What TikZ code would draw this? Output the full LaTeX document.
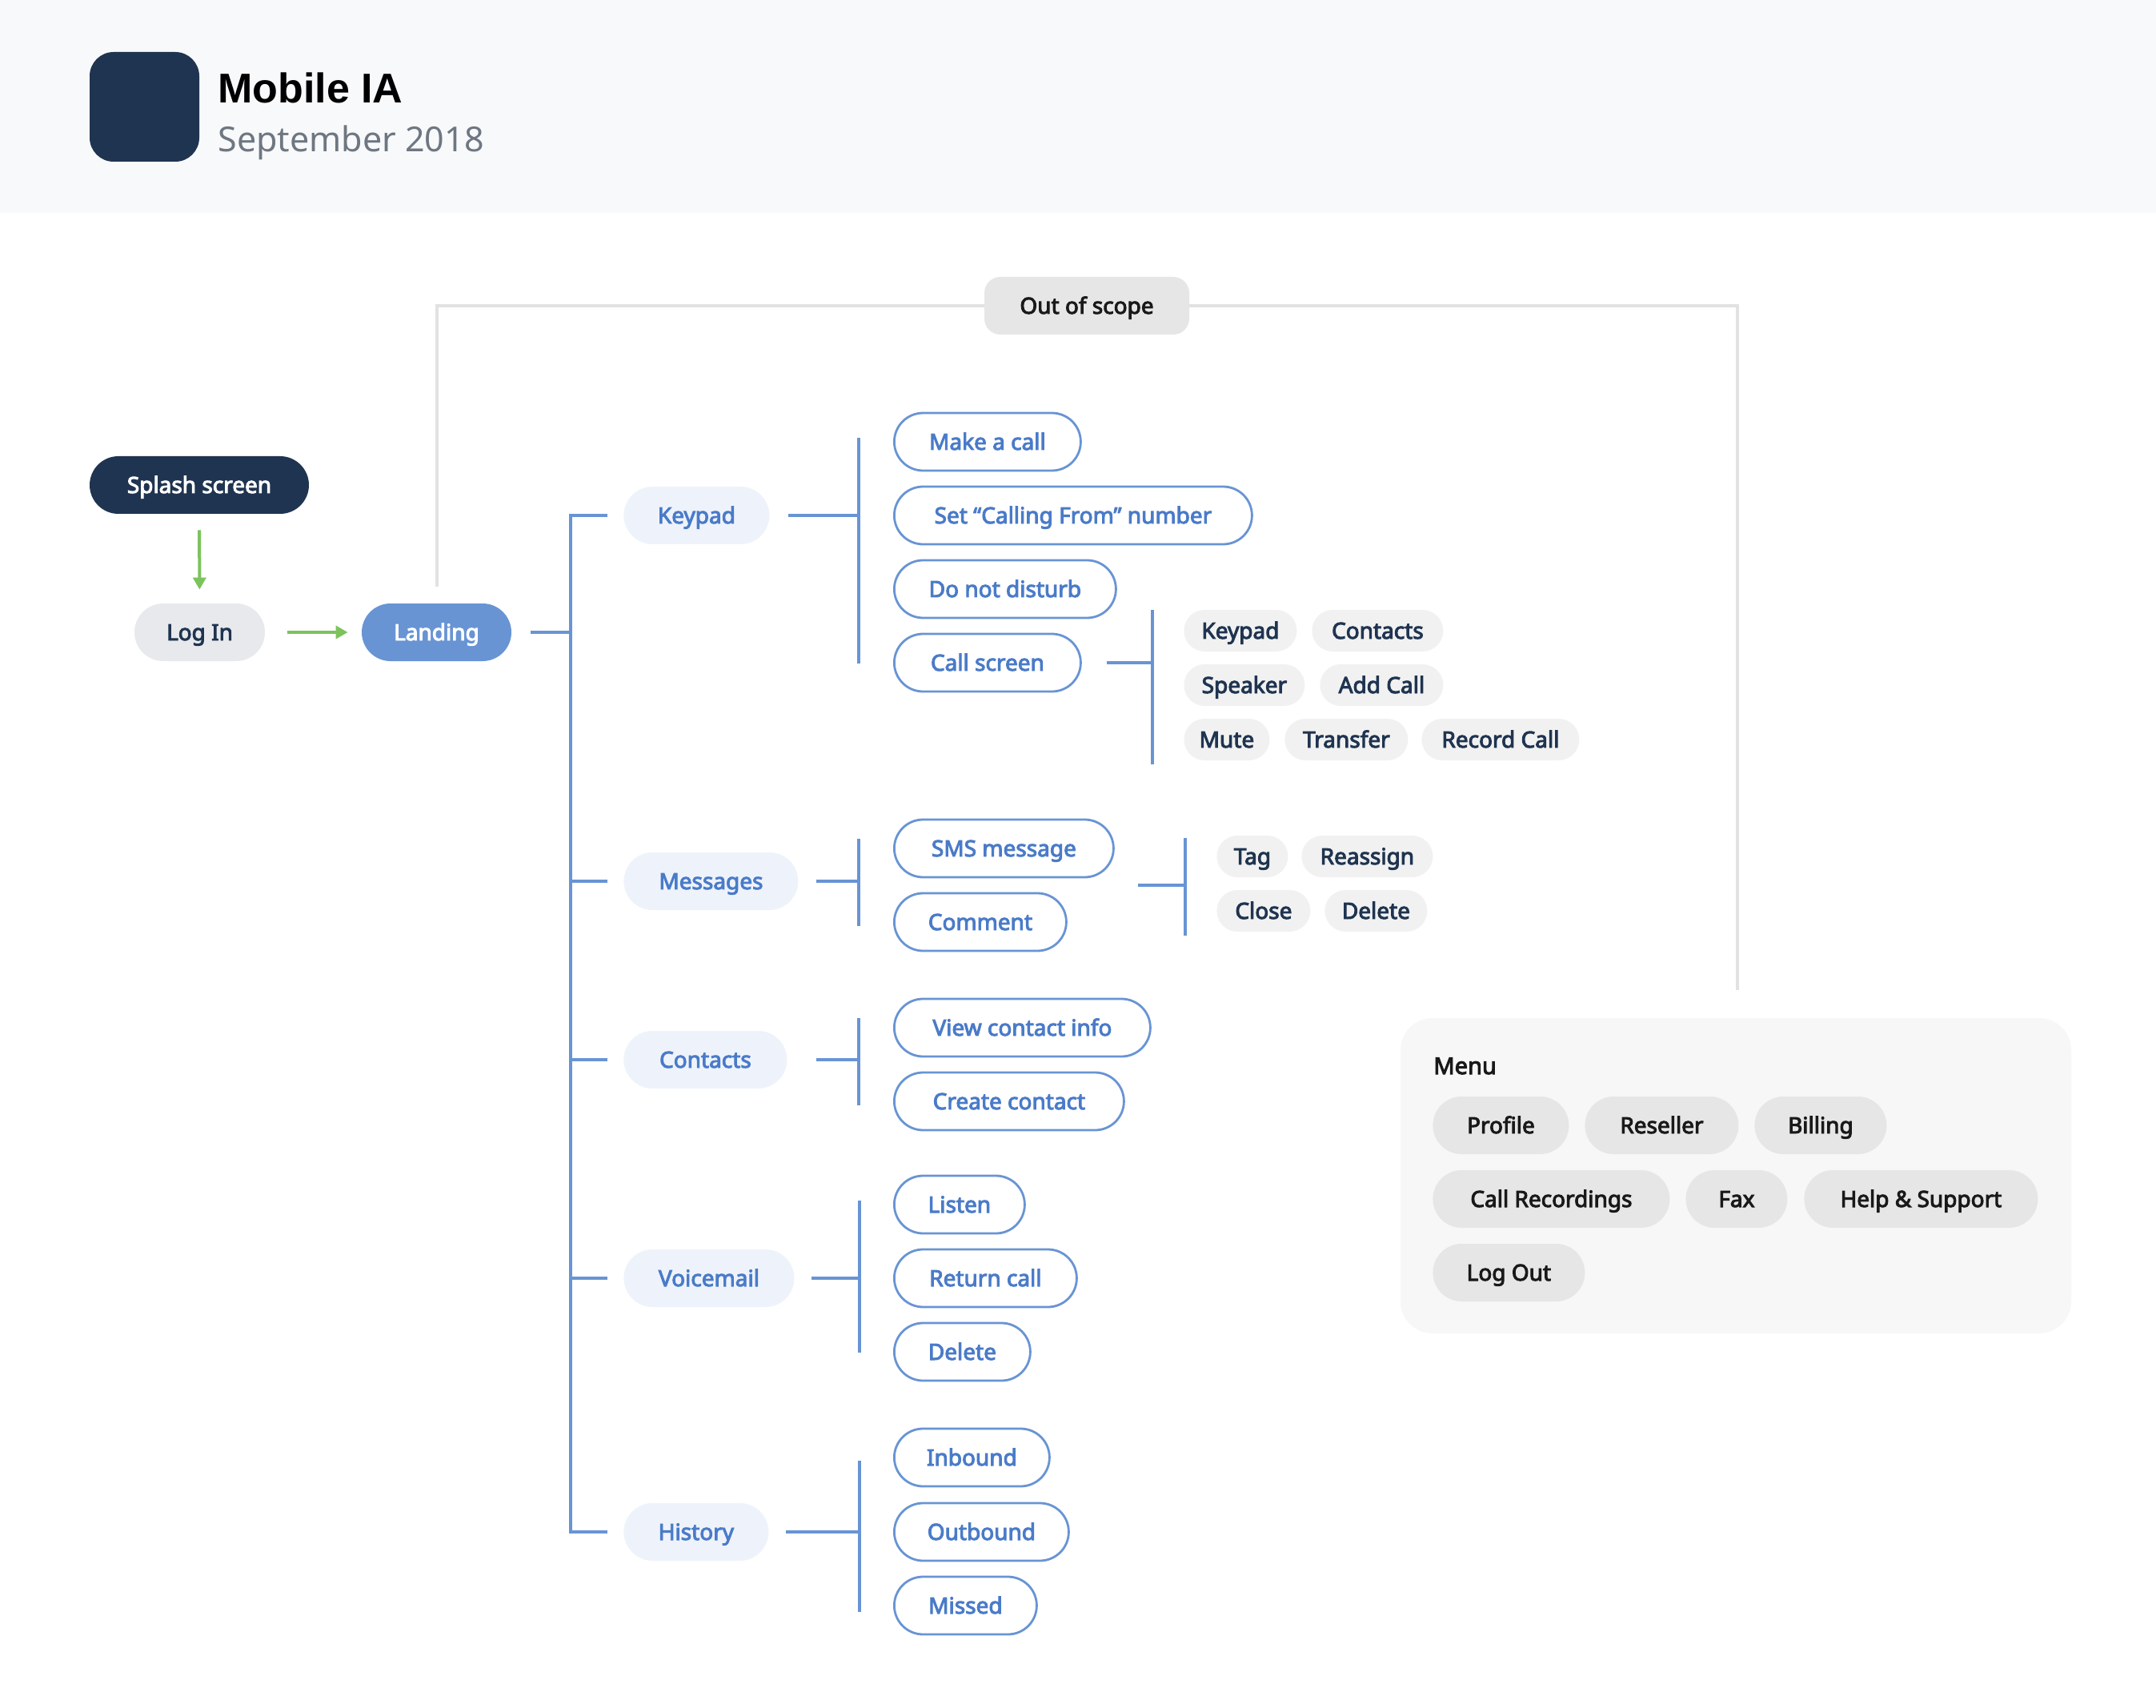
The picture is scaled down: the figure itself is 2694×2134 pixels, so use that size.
\documentclass[tikz,border=0pt]{standalone}
\usepackage{fontspec}
\setmainfont{Noto Sans}
\newfontfamily\mdfont{Noto Sans}[FakeBold=3.5]
\newfontfamily\ttlfont{Liberation Sans}[UprightFont=*-Bold]
\usetikzlibrary{arrows.meta}
\definecolor{hdr}{HTML}{F8F9FB}
\definecolor{navy}{HTML}{1F3450}
\definecolor{subgray}{HTML}{6E7781}
\definecolor{frame}{HTML}{E2E2E2}
\definecolor{oosfill}{HTML}{E6E6E6}
\definecolor{loginfill}{HTML}{E8E9ED}
\definecolor{blueA}{HTML}{6894D4}
\definecolor{blueT}{HTML}{4A7BC8}
\definecolor{lvfill}{HTML}{EEF3FB}
\definecolor{chipfill}{HTML}{F1F1F1}
\definecolor{menufill}{HTML}{F7F7F7}
\definecolor{greenA}{HTML}{7CC35C}
\begin{document}
\begin{tikzpicture}[x=0.5pt,y=-0.5pt,
  base/.style={rectangle, inner sep=0pt, text height=12pt, text depth=2pt, font=\mdfont\fontsize{14}{16}\selectfont},
  pill/.style={base, rounded corners=18pt, minimum height=36pt},
  chip/.style={base, rounded corners=13pt, minimum height=26pt, fill=chipfill, text=navy},
  wd/.style={minimum width=#1*0.5pt},
  lvone/.style={pill, fill=lvfill, text=blueT, anchor=west},
  lvtwo/.style={pill, fill=white, draw=blueA, line width=1.4pt, text=blueT, anchor=west},
  mchip/.style={pill, fill=oosfill, text=black!90},
  bl/.style={draw=blueA, line width=2pt},
  garrow/.style={draw=greenA, line width=2pt, -{Triangle[length=7.5pt,width=8pt]}},
  gline/.style={draw=frame, line width=2pt}
]
\useasboundingbox (0,0) rectangle (2694,2134);
\fill[white] (0,0) rectangle (2694,2134);
% header
\fill[hdr] (0,0) rectangle (2694,266);
\fill[navy, rounded corners=15pt] (112,65) rectangle (249,202);
\node[anchor=base west, inner sep=0pt, font=\ttlfont\fontsize{26}{30}\selectfont] (title) at (272,129) {Mobile IA};
\node[anchor=base west, inner sep=0pt, text=subgray, font=\fontsize{21.5}{26}\selectfont] (date) at (272,190) {September 2018};

% out of scope frame
\draw[gline] (546,733) -- (546,382) -- (2171,382) -- (2171,1237);
\node[base, fill=oosfill, rounded corners=10pt, minimum height=36pt, wd=256, text=black!90] (oos) at (1358,382) {Out of scope};

% start flow
\node[pill, fill=navy, text=white, wd=274] (splash) at (249,606) {Splash screen};
\node[pill, fill=loginfill, text=navy, wd=163] (login) at (249.5,790) {Log In};
\node[pill, fill=blueA, text=white, wd=187] (land) at (545.5,790) {Landing};
\draw[garrow, shorten <=10pt, shorten >=8.5pt] (splash) -- (login);
\draw[garrow, shorten <=14pt, shorten >=8.5pt] (login) -- (land);

% level 1
\node[lvone, wd=182] (kp) at (779,644) {Keypad};
\node[lvone, wd=218] (ms) at (779,1101) {Messages};
\node[lvone, wd=204] (ct) at (779,1324) {Contacts};
\node[lvone, wd=213] (vm) at (779,1597) {Voicemail};
\node[lvone, wd=181] (hi) at (779,1914) {History};

% trunk
\coordinate (tL) at (713,790);
\coordinate (tT) at (713,644);
\coordinate (tB) at (713,1914);
\coordinate (tM) at (713,1101);
\coordinate (tC) at (713,1324);
\coordinate (tV) at (713,1597);
\draw[bl, shorten <=12pt] (land.east) -- (tL);
\draw[bl, shorten <=10pt, shorten >=10pt] (kp.west) -- (tT) -- (tB) -- (hi.west);
\draw[bl, shorten >=10pt] (tM) -- (ms.west);
\draw[bl, shorten >=10pt] (tC) -- (ct.west);
\draw[bl, shorten >=10pt] (tV) -- (vm.west);

% level 2 - keypad
\node[lvtwo, wd=233] (mk) at (1116,552) {Make a call};
\node[lvtwo, wd=447] (cf) at (1116,644) {Set “Calling From” number};
\node[lvtwo, wd=277] (dnd) at (1116,736) {Do not disturb};
\node[lvtwo, wd=233] (cs) at (1116,828) {Call screen};
\coordinate (bK) at (1073,644);
\draw[bl, shorten <=11.5pt] (kp.east) -- (bK);
\draw[bl] (1073,547) -- (1073,829);

% call screen chips
\coordinate (bC) at (1440,828);
\draw[bl, shorten <=15.5pt] (cs.east) -- (bC);
\draw[bl] (1440,762) -- (1440,955);
\node[chip, wd=141, anchor=west] (c1) at (1479,788) {Keypad};
\node[chip, wd=164, anchor=west] (c2) at (1639,788) {Contacts};
\node[chip, wd=151, anchor=west] (c3) at (1479,856) {Speaker};
\node[chip, wd=154, anchor=west] (c4) at (1649,856) {Add Call};
\node[chip, wd=107, anchor=west] (c5) at (1479,924) {Mute};
\node[chip, wd=154, anchor=west] (c6) at (1605,924) {Transfer};
\node[chip, wd=197, anchor=west] (c7) at (1776,924) {Record Call};

% messages
\node[lvtwo, wd=274] (sms) at (1116,1060) {SMS message};
\node[lvtwo, wd=215] (cm) at (1116,1152) {Comment};
\coordinate (bM) at (1073,1101);
\draw[bl, shorten <=11pt] (ms.east) -- (bM);
\draw[bl] (1073,1048) -- (1073,1157);
\coordinate (sA) at (1422,1106);
\coordinate (sB) at (1481,1106);
\draw[bl] (sA) -- (sB);
\draw[bl] (1481,1047) -- (1481,1169);
\node[chip, wd=89, anchor=west] (m1) at (1520,1070) {Tag};
\node[chip, wd=164, anchor=west] (m2) at (1626,1070) {Reassign};
\node[chip, wd=117, anchor=west] (m3) at (1520,1138) {Close};
\node[chip, wd=128, anchor=west] (m4) at (1655,1138) {Delete};

% contacts
\node[lvtwo, wd=320] (vci) at (1116,1284) {View contact info};
\node[lvtwo, wd=287] (cc) at (1116,1376) {Create contact};
\coordinate (bCt) at (1073,1324);
\draw[bl, shorten <=18pt] (ct.east) -- (bCt);
\draw[bl] (1073,1272) -- (1073,1381);

% voicemail
\node[lvtwo, wd=163] (li) at (1116,1505) {Listen};
\node[lvtwo, wd=228] (rc) at (1116,1597) {Return call};
\node[lvtwo, wd=170] (dl) at (1116,1689) {Delete};
\coordinate (bV) at (1074,1597);
\draw[bl, shorten <=10.5pt] (vm.east) -- (bV);
\draw[bl] (1074,1500) -- (1074,1690);

% history
\node[lvtwo, wd=194] (ib) at (1116,1821) {Inbound};
\node[lvtwo, wd=218] (ob) at (1116,1914) {Outbound};
\node[lvtwo, wd=178] (mi) at (1116,2006) {Missed};
\coordinate (bH) at (1074,1914);
\draw[bl, shorten <=10.5pt] (hi.east) -- (bH);
\draw[bl] (1074,1825) -- (1074,2014);

% menu
\fill[menufill, rounded corners=20pt] (1750,1272) rectangle (2588,1666);
\node[anchor=base west, inner sep=0pt, text=black!90, font=\mdfont\fontsize{14.5}{17}\selectfont] (menu) at (1791,1342) {Menu};
\node[mchip, wd=170, anchor=west] (p1) at (1790,1406) {Profile};
\node[mchip, wd=192, anchor=west] (p2) at (1980,1406) {Reseller};
\node[mchip, wd=165, anchor=west] (p3) at (2192,1406) {Billing};
\node[mchip, wd=296, anchor=west] (p4) at (1790,1498) {Call Recordings};
\node[mchip, wd=127, anchor=west] (p5) at (2106,1498) {Fax};
\node[mchip, wd=292, anchor=west] (p6) at (2254,1498) {Help \& Support};
\node[mchip, wd=190, anchor=west] (p7) at (1790,1590) {Log Out};
\end{tikzpicture}
\end{document}
